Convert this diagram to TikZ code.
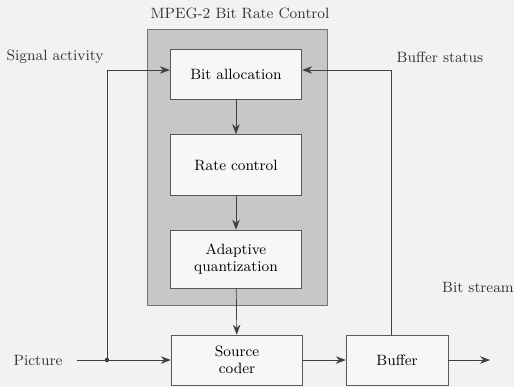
\documentclass[tikz,border=0pt]{standalone}
\usetikzlibrary{arrows.meta,positioning}

\begin{document}
\begin{tikzpicture}
    [x=0.02cm, y=-0.02cm,
    font=\fontsize{8.5}{10}\selectfont,
    block/.style={rectangle, draw=black!65, fill=black!3,
    text width=2.4cm, align=center, minimum width=2.6cm},
    label/.style={text=black!80},
    line/.style={draw, black!75, -{Stealth[length=2mm,width=1.5mm]}}]

    \useasboundingbox[fill=black!5] (0,0) rectangle (514,387);

    % control frame and its blocks
    \node [rectangle, draw=black!55, fill=black!22, minimum width=3.6cm,
      minimum height=5.52cm] (ctrl) at (237,167) {};
    \node [label] (title) at (240,13) {MPEG-2 Bit Rate Control};

    \node [block, minimum height=1cm] (alloc) at (236,74) {Bit allocation};
    \node [block, minimum height=1.22cm] (rate) at (236,165) {Rate control};
    \node [block, minimum height=1.16cm] (quant) at (236,259) {Adaptive\\quantization};

    \node [block, minimum height=1cm] (src) at (237,360) {Source\\coder};
    \node [block, minimum height=1cm, text width=1.8cm, minimum width=1.98cm] (buf) at (397,360) {Buffer};

    % outside labels
    \node [label] (act) at (55,57) {Signal activity};
    \node [label] (stat) at (440,57) {Buffer status};
    \node [label] (pic) at (38,360) {Picture};
    \node [label] (bits) at (478,287) {Bit stream};

    \coordinate (split) at (107,360);
    \coordinate (out) at (490,360);
    \fill [black!80] (split) circle (2.2);

    \begin{scope}[every path/.style=line]
        \path (alloc) -- (rate);
        \path (rate) -- (quant);
        \path (quant) -- (src);
        \path (split) -- (src);
        \path (src) -- (buf);
        \path (buf) -- (out);
        \path (split) |- ([yshift=0.08cm]alloc.west);
        \path ([xshift=-0.12cm]buf.north) |- ([yshift=0.08cm]alloc.east);
    \end{scope}
    \draw [black!75] (pic.east) ++(8,0) -- (split);
\end{tikzpicture}
\end{document}
